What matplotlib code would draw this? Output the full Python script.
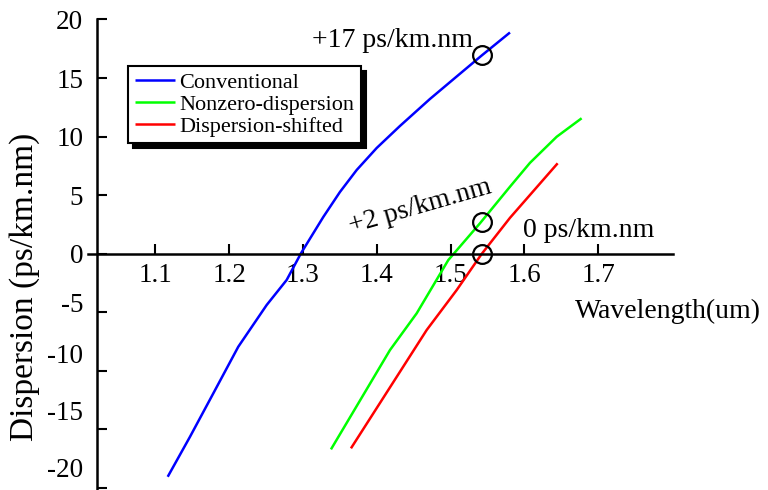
import matplotlib
matplotlib.use("Agg")
import matplotlib.pyplot as plt
from matplotlib.transforms import ScaledTranslation

plt.rcParams['font.family'] = ['Liberation Serif', 'DejaVu Serif']
plt.rcParams['axes.unicode_minus'] = False

# ---- data ----
conv_x = [1.1167, 1.1469, 1.1785, 1.2123, 1.2508, 1.2779, 1.2973, 1.3275, 1.3501,
          1.3728, 1.3999, 1.4314, 1.4721, 1.5083, 1.5421, 1.5805]
conv_y = [-19.08, -15.66, -11.95, -7.97, -4.40, -2.26, 0.02, 3.12, 5.26,
          7.14, 9.02, 10.90, 13.21, 15.13, 16.92, 18.89]

nz_x = [1.3379, 1.4179, 1.4541, 1.4969, 1.5398, 1.5805, 1.6076, 1.6438, 1.6776]
nz_y = [-16.74, -8.25, -5.11, -0.56, 2.58, 5.71, 7.75, 9.98, 11.56]

ds_x = [1.3650, 1.4676, 1.5083, 1.5421, 1.5805, 1.6451]
ds_y = [-16.65, -6.54, -3.12, -0.04, 3.05, 7.71]

series_names = ['Conventional', 'Nonzero-dispersion', 'Dispersion-shifted']
series_colors = ['#0000ff', '#00ff00', '#ff0000']

mark_x = [1.542, 1.542, 1.542]
mark_y = [16.97, 2.7, 0.0]
mark_labels = ['+17 ps/km.nm', '+2 ps/km.nm', '0 ps/km.nm']

x_ticks = [1.1, 1.2, 1.3, 1.4, 1.5, 1.6, 1.7]
y_ticks = [20, 15, 10, 5, 0, -5, -10, -15, -20]

# ---- figure ----
fig = plt.figure(figsize=(7.68, 4.90), dpi=100)
ax = fig.add_axes([88 / 768, 0, (673 - 88) / 768, (490 - 19.5) / 490])
ax.set_xlim(1.0087, 1.8014)
ax.set_ylim(-20.21, 20.0)

for xs, ys, name, col in zip([conv_x, nz_x, ds_x], [conv_y, nz_y, ds_y],
                             series_names, series_colors):
    ax.plot(xs, ys, color=col, lw=1.8, label=name, solid_capstyle='butt',
            solid_joinstyle='round')

ax.plot(mark_x, mark_y, 'o', ms=13.5, mfc='none', mec='black', mew=1.6,
        clip_on=False)

# annotations
ax.text(1.5305, 17.65, mark_labels[0], ha='right', va='baseline', fontsize=20)
ax.text(1.4585, 3.97, mark_labels[1], ha='center', va='center', fontsize=20,
        rotation=16, rotation_mode='anchor')
ax.text(1.5981, 1.44, mark_labels[2], ha='left', va='baseline', fontsize=20)

# spines
for s in ['top', 'right']:
    ax.spines[s].set_visible(False)
ax.spines['bottom'].set_position(('data', 0))
ax.spines['left'].set_position(('data', 1.0209))
for s in ['bottom', 'left']:
    ax.spines[s].set_linewidth(1.8)

ax.set_xticks(x_ticks)
ax.set_xticklabels([f'{v:.1f}' for v in x_ticks])
ax.set_yticks(y_ticks)
ax.set_yticklabels([str(v) for v in y_ticks])
ax.tick_params(axis='both', direction='in', length=7, width=1.5, labelsize=19.5)
ax.tick_params(axis='x', pad=7)
ax.tick_params(axis='y', pad=10)

ax.set_xlabel('Wavelength(um)', fontsize=20)
ax.xaxis.set_label_coords((668 - 88) / 585, (490 - 311) / 470.5)
ax.xaxis.label.set_verticalalignment('center')
ax.xaxis.label.set_horizontalalignment('center')

ax.set_ylabel('Dispersion (ps/km.nm)', fontsize=24)
ax.yaxis.set_label_coords((25 - 88) / 585, (490 - 287) / 470.5)
ax.yaxis.label.set_verticalalignment('center')

leg = ax.legend(loc='upper left', bbox_to_anchor=(128 / 768, 1 - 66 / 490),
                bbox_transform=fig.transFigure, borderaxespad=0, fancybox=False,
                edgecolor='black', framealpha=1, fontsize=16,
                handlelength=1.8, handletextpad=0.2, labelspacing=0.05,
                borderpad=0.3,
                shadow={'ox': 3.6, 'oy': -3.6, 'color': 'black', 'alpha': 1})
leg.get_frame().set_linewidth(1.5)

fig.canvas.draw()
label_shift = {-5: 7.2, -10: 12.2, -15: 13.7, -20: 14.4}
for tick in ax.yaxis.get_major_ticks():
    v = round(tick.get_loc())
    if v in label_shift:
        tick.label1.set_transform(tick.label1.get_transform() +
                                  ScaledTranslation(0, label_shift[v] / 72,
                                                    fig.dpi_scale_trans))

fig.savefig('out.png', dpi=100)
